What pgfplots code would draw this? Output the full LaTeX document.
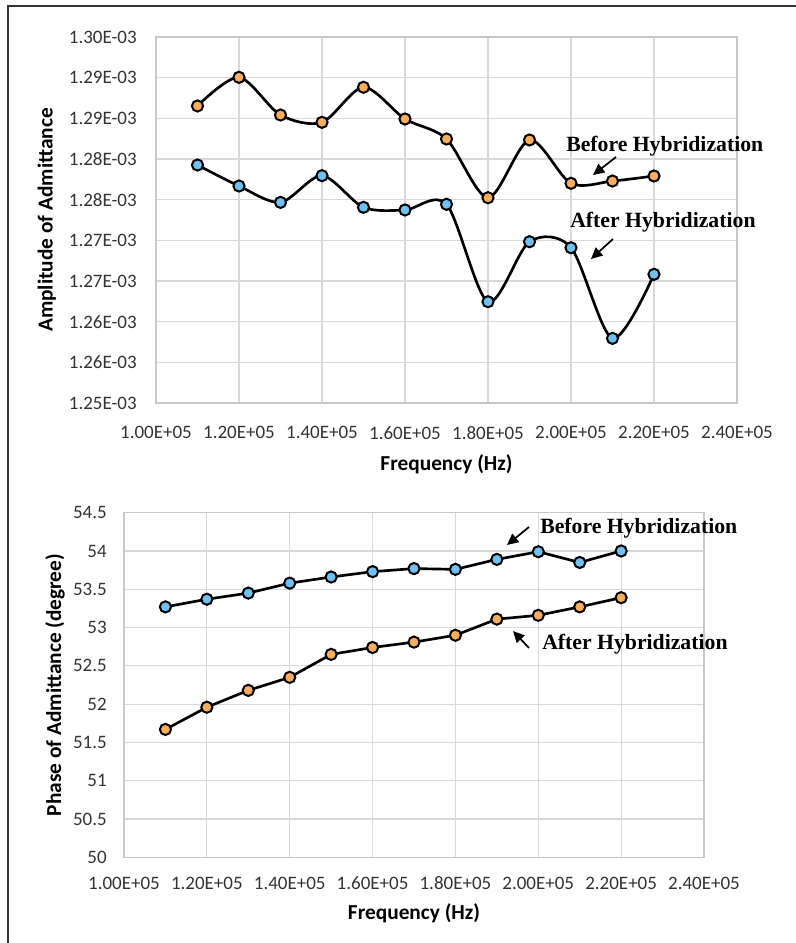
\documentclass[border=0pt]{standalone}
\usepackage{pgfplots}
\pgfplotsset{compat=1.18}
\usepackage{fontspec}
\setmainfont{Carlito}
\newfontfamily\tnr{Liberation Serif}
\usetikzlibrary{arrows.meta}
\definecolor{mkorange}{RGB}{248,174,92}
\definecolor{mkblue}{RGB}{112,192,240}
\definecolor{gridc}{RGB}{217,217,217}
\definecolor{axc}{RGB}{200,200,200}

\pgfplotsset{
  common/.style={
    scale only axis,
    anchor=north west,
    grid=major,
    major grid style={gridc, line width=0.9pt},
    axis line style={axc, line width=0.9pt},
    tick style={draw=none},
    xmin=100000, xmax=240000,
    xtick={100000,120000,140000,160000,180000,200000,220000,240000},
    xticklabels={1.00E+05,1.20E+05,1.40E+05,1.60E+05,1.80E+05,2.00E+05,2.20E+05,2.40E+05},
    scaled x ticks=false, scaled y ticks=false,
    ticklabel style={font=\fontsize{14.25}{16}\selectfont, text=black!80, inner sep=0pt},
    label style={font=\fontsize{16}{19}\selectfont\bfseries, text=black},
    clip=false,
  },
  ser/.style={black, line width=2pt, mark=*, mark size=4.2pt,
    mark options={draw=black, line width=1.5pt, fill=#1}},
}

\begin{document}
\begin{tikzpicture}
\path[use as bounding box] (0,0) rectangle (597pt,-707.25pt);
\draw[line width=1.5pt, black!80] (6pt,-707.25pt) -- (6pt,-4.5pt) -- (597pt,-4.5pt);

% ---------- Top: amplitude ----------
\begin{axis}[common,
  at={(117pt,-27.75pt)}, width=435.75pt, height=274.5pt,
  ymin=0.001255, ymax=0.0013,
  ytick={0.001255,0.00126,0.001265,0.00127,0.001275,0.00128,0.001285,0.00129,0.001295,0.0013},
  yticklabels={1.25E-03,1.26E-03,1.26E-03,1.27E-03,1.27E-03,1.28E-03,1.28E-03,1.29E-03,1.29E-03,1.30E-03},
  yticklabel shift=14.25pt,
  xticklabel shift=17.25pt,
  xlabel={Frequency (Hz)},
  ylabel={Amplitude of Admittance},
  xlabel style={at={(axis description cs:0.5,-0.167)}, anchor=center},
  ylabel style={at={(axis description cs:-0.188,0.5)}, anchor=center},
]
\addplot[ser=mkorange, smooth, tension=0.5] coordinates {
 (110000,0.00129152) (120000,0.00129504) (130000,0.00129041) (140000,0.00128951)
 (150000,0.00129382) (160000,0.00128992) (170000,0.00128746) (180000,0.00128024)
 (190000,0.00128734) (200000,0.00128201) (210000,0.00128229) (220000,0.00128291)};
\addplot[ser=mkblue, smooth, tension=0.5] coordinates {
 (110000,0.00128426) (120000,0.00128168) (130000,0.00127967) (140000,0.00128295)
 (150000,0.00127906) (160000,0.00127873) (170000,0.00127943) (180000,0.00126745)
 (190000,0.00127483) (200000,0.00127409) (210000,0.00126295) (220000,0.00127082)};
\end{axis}

% ---------- Bottom: phase ----------
\begin{axis}[common,
  at={(93pt,-384.5pt)}, width=435pt, height=258.5pt,
  ymin=50, ymax=54.5,
  ytick={50,50.5,51,51.5,52,52.5,53,53.5,54,54.5},
  yticklabels={50,50.5,51,51.5,52,52.5,53,53.5,54,54.5},
  yticklabel shift=12.75pt,
  xticklabel shift=14.5pt,
  xlabel={Frequency (Hz)},
  ylabel={Phase of Admittance (degree)},
  xlabel style={at={(axis description cs:0.5,-0.162)}, anchor=center},
  ylabel style={at={(axis description cs:-0.119,0.5)}, anchor=center},
]
\addplot[ser=mkblue] coordinates {
 (110000,53.27) (120000,53.37) (130000,53.45) (140000,53.58)
 (150000,53.66) (160000,53.73) (170000,53.77) (180000,53.76)
 (190000,53.89) (200000,53.99) (210000,53.85) (220000,54.00)};
\addplot[ser=mkorange] coordinates {
 (110000,51.67) (120000,51.96) (130000,52.18) (140000,52.35)
 (150000,52.65) (160000,52.74) (170000,52.81) (180000,52.90)
 (190000,53.11) (200000,53.16) (210000,53.27) (220000,53.39)};
\end{axis}

% ---------- Annotations ----------
\tikzset{ann/.style={anchor=west, inner sep=0pt, font=\tnr\bfseries\fontsize{16.3}{19}\selectfont},
         arr/.style={-{Triangle[length=8.5pt,width=8pt]}, line width=1.3pt}}
\node[ann] at (424.5pt,-109.5pt) {Before Hybridization};
\draw[arr] (462pt,-117.75pt) -- (444.75pt,-131.25pt);
\node[ann] at (427.5pt,-166.5pt) {After Hybridization};
\draw[arr] (459.75pt,-179.25pt) -- (443.25pt,-194.25pt);
\node[ann] at (405pt,-396pt) {Before Hybridization};
\draw[arr] (396.75pt,-395.25pt) -- (380.25pt,-408.75pt);
\node[ann] at (406.5pt,-483pt) {After Hybridization};
\draw[arr] (396.75pt,-486pt) -- (384.75pt,-473.25pt);
\end{tikzpicture}
\end{document}
